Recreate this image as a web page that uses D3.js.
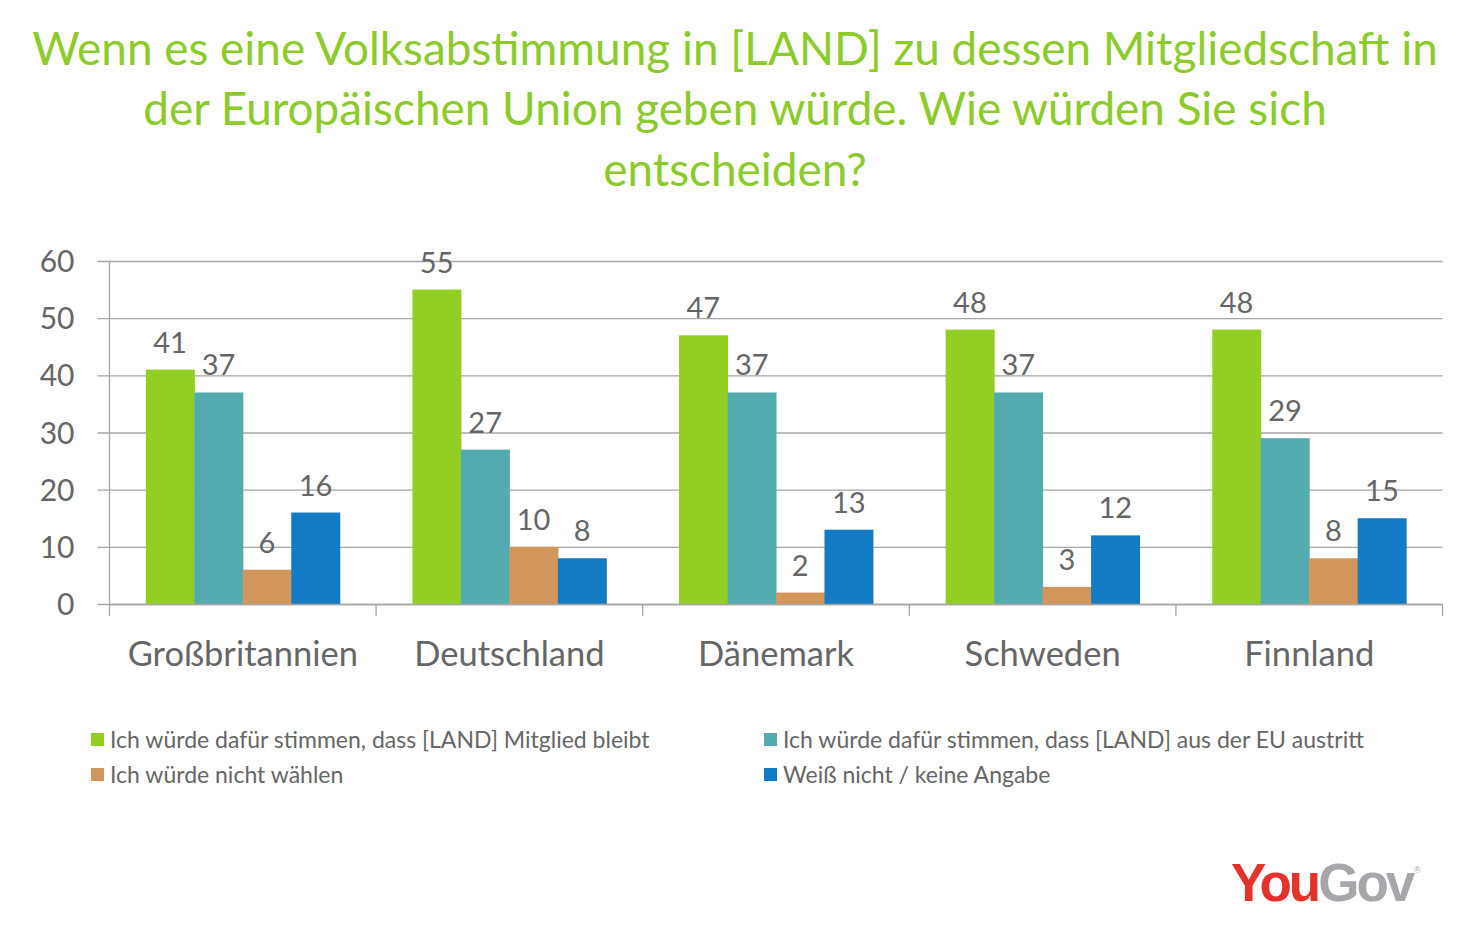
<!DOCTYPE html>
<html><head><meta charset="utf-8">
<script src="https://cdn.jsdelivr.net/npm/d3@7"></script>
<style>body{margin:0;background:#fff;} svg{display:block;font-family:Lato,"Open Sans",sans-serif;}</style>
</head><body>
<svg id="c" width="1482" height="945"></svg>
<script>
const titleLines = ["Wenn es eine Volksabstimmung in [LAND] zu dessen Mitgliedschaft in","der Europäischen Union geben würde. Wie würden Sie sich","entscheiden?"];
const categories = ["Großbritannien","Deutschland","Dänemark","Schweden","Finnland"];
const seriesNames = ["Ich würde dafür stimmen, dass [LAND] Mitglied bleibt","Ich würde dafür stimmen, dass [LAND] aus der EU austritt","Ich würde nicht wählen","Weiß nicht / keine Angabe"];
const bleibt = [41,55,47,48,48];
const austritt = [37,27,37,37,29];
const nichtWaehlen = [6,10,2,3,8];
const weissNicht = [16,8,13,12,15];
const yTicks = [0,10,20,30,40,50,60];
const colors = ["#93CF22","#53ABB0","#D3965A","#127BC4"];

(function(){
const series = [bleibt,austritt,nichtWaehlen,weissNicht];
const svg = d3.select("#c");
const gray = "#666666";

function fit(sel, w){ const n = sel.node(); const l = n.getComputedTextLength(); const fs = parseFloat(sel.attr("font-size")); sel.attr("font-size", fs*w/l); return fs*w/l; }

// title
const tt = svg.append("g").attr("fill","#8CCB2A").attr("text-anchor","middle");
const t1 = tt.append("text").attr("x",735).attr("y",65).attr("font-size",38).text(titleLines[0]);
const tfs = fit(t1, 1406);
tt.append("text").attr("x",735).attr("y",125).attr("font-size",tfs).text(titleLines[1]);
tt.append("text").attr("x",735).attr("y",186).attr("font-size",tfs).text(titleLines[2]);

const pL = 109.5, pR = 1442.5, pT = 261, pB = 604;
const x0 = d3.scaleBand().domain(categories).range([pL,pR]).paddingInner(0).paddingOuter(0);
const x1 = d3.scaleBand().domain(d3.range(4)).range([0,x0.bandwidth()]).paddingOuter(0.75).paddingInner(0);
const y = d3.scaleLinear().domain([0,60]).range([pB,pT]);

// grid
const yAxis = d3.axisLeft(y).tickValues(yTicks).tickSize(-(pR-pL)).tickPadding(0);
const ga = svg.append("g").attr("transform",`translate(${pL},0)`).call(yAxis);
ga.select(".domain").remove();
ga.selectAll(".tick line").attr("stroke","#A6A6A6").attr("stroke-width",1.3).attr("x1",-12);
ga.selectAll(".tick text").attr("x",-35).attr("fill",gray).attr("font-size",30).attr("font-family","Lato").attr("dy","0.35em");

svg.append("line").attr("x1",pL).attr("x2",pL).attr("y1",pT).attr("y2",pB).attr("stroke","#A6A6A6").attr("stroke-width",1.3);

// bars
const groups = svg.append("g").selectAll("g").data(categories).join("g")
  .attr("transform",d=>`translate(${x0(d)},0)`);
groups.selectAll("rect").data((d,i)=>series.map((s,k)=>({k,v:s[i]}))).join("rect")
  .attr("x",d=>x1(d.k)).attr("width",x1.bandwidth()+0.5)
  .attr("y",d=>y(d.v)).attr("height",d=>pB-y(d.v)).attr("fill",d=>colors[d.k]);
groups.selectAll("text").data((d,i)=>series.map((s,k)=>({k,v:s[i]}))).join("text")
  .attr("x",d=>x1(d.k)+x1.bandwidth()/2).attr("y",d=>y(d.v)-17)
  .attr("text-anchor","middle").attr("fill",gray).attr("font-size",29).text(d=>d.v);

// x axis
const xAxis = d3.axisBottom(x0).tickSize(0).tickPadding(0);
const gx = svg.append("g").attr("transform",`translate(0,${pB})`).call(xAxis);
gx.select(".domain").attr("stroke","#A6A6A6").attr("stroke-width",1.3);
gx.selectAll(".tick text").attr("y",62).attr("dy",0).attr("fill",gray).attr("font-size",34.5).attr("font-family","Lato");
svg.append("g").selectAll("line").data(d3.range(categories.length+1)).join("line")
  .attr("x1",i=>pL+i*x0.bandwidth()).attr("x2",i=>pL+i*x0.bandwidth())
  .attr("y1",pB).attr("y2",pB+12).attr("stroke","#A6A6A6").attr("stroke-width",1.3);

// legend
const lg = svg.append("g");
const lpos = [[91,740],[764,740],[91,775],[764,775]];
seriesNames.forEach((n,i)=>{
  lg.append("rect").attr("x",lpos[i][0]).attr("y",lpos[i][1]-7).attr("width",13).attr("height",13).attr("fill",colors[i]);
  lg.append("text").attr("x",lpos[i][0]+19).attr("y",lpos[i][1]).attr("dy","0.35em").attr("fill",gray).attr("font-size",23).text(n);
});

// logo
const logo = svg.append("text").attr("x",1231).attr("y",901).attr("font-family","Liberation Sans, Arial, sans-serif").attr("font-weight","bold").attr("font-size",53).attr("letter-spacing",-3);
logo.append("tspan").attr("fill","#E5322B").text("You");
logo.append("tspan").attr("fill","#A5A7AA").text("Gov");
svg.append("text").attr("x",1414).attr("y",873).attr("font-size",9).attr("fill","#A5A7AA").attr("font-family","Liberation Sans").text("®");
})();
</script>
</body></html>
